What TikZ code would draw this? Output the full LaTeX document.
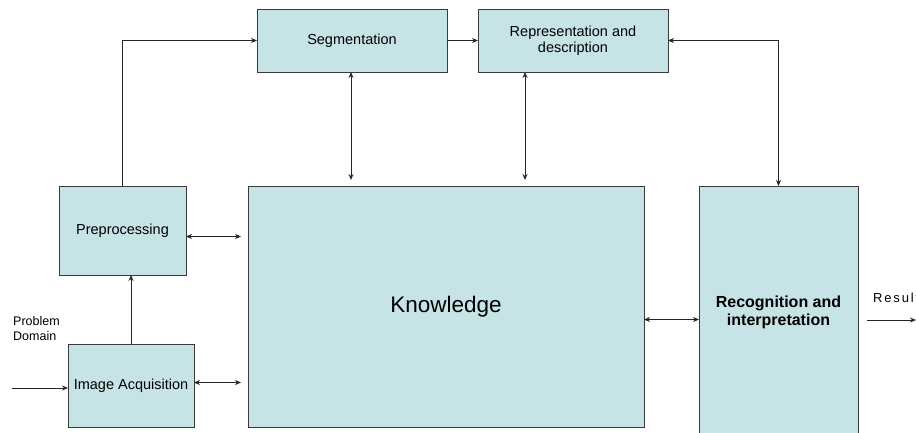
\documentclass[tikz,border=0pt]{standalone}
\usepackage{fontspec}
\setmainfont{Liberation Sans}
\usetikzlibrary{arrows.meta,calc}
\definecolor{boxfill}{HTML}{C6E3E6}
\definecolor{boxline}{HTML}{3A3A3A}
\tikzset{
  blk/.style={draw=boxline, fill=boxfill, line width=0.9pt, anchor=north west,
    inner sep=0pt, outer sep=0pt, align=center, font=\fontsize{14.5}{16}\selectfont},
  conn/.style={line width=0.8pt, draw=black!85, -{Stealth[length=6pt,width=5pt]}},
  bconn/.style={line width=0.8pt, draw=black!85, {Stealth[length=6pt,width=5pt]}-{Stealth[length=6pt,width=5pt]}},
  lbl/.style={font=\fontsize{12.5}{15}\selectfont, inner sep=0pt, align=left}
}
\begin{document}
\begin{tikzpicture}[x=1pt,y=-1pt]
\useasboundingbox[fill=white] (0,0) rectangle (916,432);

% processing stages
\node[blk, minimum width=190pt, minimum height=63pt] (seg) at (257,9) {Segmentation};
\node[blk, minimum width=190pt, minimum height=63pt] (rep) at (478,9) {Representation and\\description};
\node[blk, minimum width=127pt, minimum height=89pt] (pre) at (59,186) {Preprocessing};
\node[blk, minimum width=126pt, minimum height=83pt] (acq) at (68,344) {Image Acquisition};
\node[blk, minimum width=396pt, minimum height=241pt, font=\fontsize{22.5}{26}\selectfont] (know) at (248,186) {Knowledge};
\node[blk, minimum width=159pt, minimum height=252pt, font=\bfseries\fontsize{16}{18}\selectfont] (rec) at (699,186) {Recognition and\\interpretation};

% free labels
\node[lbl, anchor=north west] (pd) at (13,316) {Problem\\Domain};
\node[lbl, anchor=west, font=\fontsize{13}{15}\selectfont\addfontfeatures{LetterSpace=14}] (res) at (873,298) {Result};

% input / output ends
\coordinate (inp) at (12,388);
\coordinate (outA) at (867,320);
\coordinate (outB) at (916,320);

% flow between stages
\draw[conn] (inp) -- (inp -| acq.west);
\draw[conn] (acq.north) -- (acq.north |- pre.south);
\draw[conn] (pre.north) |- (seg.west);
\draw[conn] (seg.east) -- (rep.west);
\draw[bconn] (rec.north) |- (rep.east);
\draw[bconn] ($(seg.south)+(-1,0)$) -- ($(seg.south |- know.north)+(-1,-6)$);
\draw[bconn] ($(rep.south west)+(47,0)$) -- ($(rep.south west |- know.north)+(47,-6)$);
\draw[bconn] ($(pre.east)+(0,6)$) -- ($(know.west |- pre.east)+(-7,6)$);
\draw[bconn] ($(acq.east)+(0,-3)$) -- ($(know.west |- acq.east)+(-7,-3)$);
\draw[bconn] ($(know.east)+(0,13)$) -- ($(rec.west |- know.east)+(0,13)$);
\draw[conn] (outA) -- (outB);
\end{tikzpicture}
\end{document}
